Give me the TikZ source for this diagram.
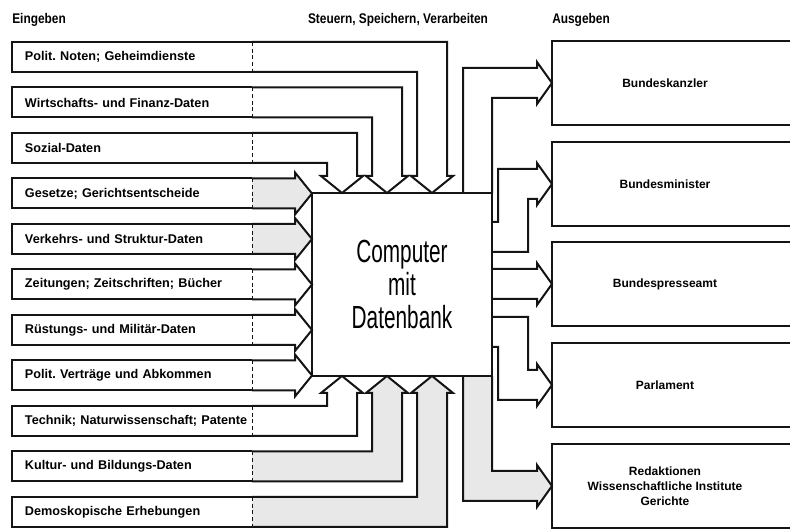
\documentclass[tikz,border=0pt]{standalone}
\usepackage{fontspec}
\setmainfont{Liberation Sans}
\newfontfamily\condfont[FakeStretch=0.85]{Liberation Sans}
\newfontfamily\cpufont[FakeStretch=0.65]{Liberation Sans}
\usepackage{tikz}
\usetikzlibrary{calc}
\frenchspacing
\definecolor{ink}{HTML}{141414}
\definecolor{grain}{HTML}{E8E8E8}
\tikzset{
  inbox/.style={draw=none,outer sep=0pt,inner xsep=9.75pt,inner ysep=0pt,
                text width=160.5pt,minimum height=22.5pt,align=left,
                font=\fontsize{9.5}{11}\selectfont\bfseries},
  outbox/.style={draw=none,outer sep=0pt,minimum width=169.5pt,minimum height=63pt,
                 align=center,font=\fontsize{9}{11.25}\selectfont\bfseries},
  cpubox/.style={draw=ink,fill=white,line width=1.5pt,outer sep=0pt,
                 minimum width=135pt,minimum height=137.25pt,align=center,
                 font=\cpufont\fontsize{24}{25}\selectfont},
  header/.style={inner sep=0pt,font=\condfont\fontsize{10.5}{12}\selectfont\bfseries},
  boxline/.style={draw=ink,line width=1.5pt},
  divider/.style={draw=ink,line width=0.6pt,densely dashed},
  pipe/.style={draw=ink,line width=1.5pt},
  grainy/.style={pipe,fill=grain}
}
\begin{document}
\begin{tikzpicture}[x=0.75pt,y=-0.75pt]
  \useasboundingbox (0,0) rectangle (790,530);
  \fill[white] (0,0) rectangle (790,530);
  \clip (0,0) rectangle (790,530);
  \node[header,anchor=base west] (hin) at (12,24) {Eingeben};
  \node[header,anchor=base] (hcpu) at (398,24) {Steuern, Speichern, Verarbeiten};
  \node[header,anchor=base west] (hout) at (552,24) {Ausgeben};
  \node[cpubox] (cpu) at (402,284.5) {Computer\\mit\\Datenbank};
  \foreach \i/\txt in {1/{Polit. Noten; Geheimdienste},2/{Wirtschafts- und Finanz-Daten},
      3/{Sozial-Daten},4/{Gesetze; Gerichtsentscheide},5/{Verkehrs- und Struktur-Daten},
      6/{Zeitungen; Zeitschriften; Bücher},7/{Rüstungs- und Militär-Daten},
      8/{Polit. Verträge und Abkommen},9/{Technik; Naturwissenschaft; Patente},
      10/{Kultur- und Bildungs-Daten},11/{Demoskopische Erhebungen}}
    \node[inbox] (in\i) at (132,{57+45.5*(\i-1)}) {\mbox{\txt}};
  \foreach \i/\xc in {1/432,2/387,3/342}
    \draw[pipe] (in\i.north east) -| (\xc+15,176) -- ++(6,0) -- (cpu.north -| \xc,0)
      -- ++(-21,-17) -- ++(6,0) |- (in\i.south east);
  \foreach \i/\sty in {4/grainy,5/grainy,6/pipe,7/pipe,8/pipe}
    \draw[\sty] (in\i.north east) -- ++(43,0) -- ++(0,-6) -- (cpu.west |- in\i)
      -- ++(-17,21) -- ++(0,-6) -- (in\i.south east);
  \foreach \i/\xc/\sty in {9/342/pipe,10/387/grainy,11/432/grainy}
    \draw[\sty] (in\i.north east) -| (\xc-15,393) -- ++(-6,0) -- (cpu.south -| \xc,0)
      -- ++(21,17) -- ++(-6,0) |- (in\i.south east);
  \foreach \i in {1,...,11} {
    \draw[boxline] (in\i.north east) -- (in\i.north west) -- (in\i.south west) -- (in\i.south east);
    \draw[divider] (in\i.north east) -- (in\i.south east);
  }
  \coordinate (edge) at (800,0);
  \foreach \i/\yc/\txt in {1/83/Bundeskanzler,2/184/Bundesminister,3/284/Bundespresseamt,
      4/385/Parlament,5/486/{Redaktionen\\Wissenschaftliche Institute\\Gerichte}} {
    \node[outbox] (out\i) at (665,\yc) {\txt};
    \draw[boxline] (out\i.north west -| edge) -- (out\i.north west) -- (out\i.south west)
      -- (out\i.south west -| edge);
  }
  \draw[pipe] (cpu.north -| 463,0) |- (537,68) -- ++(0,-6) -- (out1.west)
    -- ++(-15,21) -- ++(0,-6) -| (cpu.north east);
  \draw[pipe] (cpu.east |- 0,252) -| (528,199) -- ++(9,0) -- ++(0,6) -- (out2.west)
    -- ++(-15,-21) -- ++(0,6) -| (498,222) -- (cpu.east |- 0,222);
  \draw[pipe] (cpu.east |- 0,269) -- ++(45,0) -- ++(0,-6) -- (out3.west)
    -- ++(-15,21) -- ++(0,-6) -- (cpu.east |- 0,299);
  \draw[pipe] (cpu.east |- 0,317) -| (528,370) -- ++(9,0) -- ++(0,-6) -- (out4.west)
    -- ++(-15,21) -- ++(0,-6) -| (498,347) -- (cpu.east |- 0,347);
  \draw[grainy] (cpu.south east) |- (537,471) -- ++(0,-6) -- (out5.west)
    -- ++(-15,21) -- ++(0,-6) -| (cpu.south -| 463,0);
  \draw[boxline] (cpu.south west) rectangle (cpu.north east);
\end{tikzpicture}
\end{document}
